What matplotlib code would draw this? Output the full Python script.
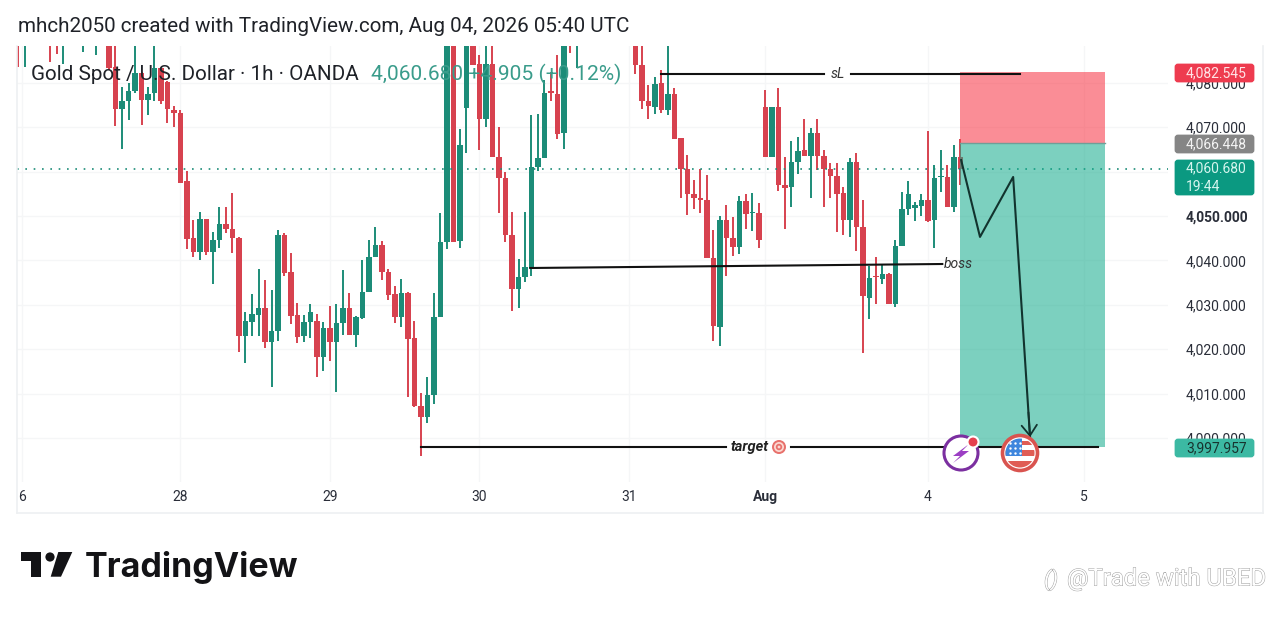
import matplotlib
matplotlib.use('Agg')
import matplotlib.pyplot as plt
import matplotlib.patheffects as pe
from matplotlib.patches import Circle, FancyBboxPatch, Polygon, Rectangle
import numpy as np

# hourly candles, anything above 4088 is cut by the pane
opens = [4093, 4090, 4094, 4096, 4092, 4094, 4091, 4089, 4094, 4092,
         4090, 4094, 4092, 4095, 4093, 4083.5, 4074.0, 4076.0, 4078.2, 4082.3,
         4076.1, 4077.8, 4083.3, 4080.3, 4073.9, 4073.1, 4057.9, 4045.0, 4041.8, 4049.3,
         4042.0, 4044.7, 4048.2, 4047.0, 4045.1, 4023.0, 4026.2, 4027.7, 4029.4, 4021.7,
         4024.2, 4045.7, 4037.3, 4027.7, 4023.0, 4026.1, 4026.3, 4018.2, 4024.7, 4021.7,
         4025.8, 4029.2, 4023.3, 4027.0, 4033.0, 4040.8, 4043.5, 4037.5, 4032.4, 4027.2,
         4032.6, 4022.6, 4007.2, 4004.7, 4009.7, 4027.2, 4044.2, 4096, 4044.4, 4074.4,
         4095, 4084.2, 4071.9, 4084.2, 4063.4, 4058.6, 4045.7, 4033.5, 4036.2, 4038.4,
         4061.1, 4063.0, 4078.0, 4077.4, 4068.8, 4093, 4090, 4094, 4092, 4095,
         4096, 4093, 4097, 4094, 4096, 4092, 4084.0, 4075.9, 4074.6, 4079.9,
         4073.9, 4077.4, 4067.5, 4060.6, 4054.9, 4054.1, 4053.6, 4040.5, 4025.1, 4049.1,
         4045.1, 4043.1, 4053.4, 4050.7, 4050.6, 4074.6, 4063.2, 4074.6, 4057.1, 4056.5,
         4062.2, 4064.9, 4063.6, 4068.6, 4063.5, 4060.7, 4059.0, 4055.1, 4049.1, 4062.2,
         4047.6, 4031.5, 4036.4, 4035.8, 4036.9, 4030.3, 4043.2, 4051.7, 4051.9, 4052.3,
         4053.6, 4049.1, 4058.7, 4058.7, 4052.1, 4063.4]
highs = [4095, 4096, 4098, 4099, 4095, 4097, 4095, 4096, 4097, 4096,
         4095, 4098, 4097, 4098, 4095, 4089, 4079.1, 4079.9, 4089, 4082.5,
         4079.1, 4089, 4083.3, 4080.5, 4074.8, 4073.9, 4060.1, 4049.0, 4050.8, 4049.3,
         4046.3, 4052.1, 4052.1, 4055.1, 4045.3, 4028.5, 4032.4, 4038.1, 4035.7, 4033.3,
         4046.9, 4046.2, 4041.6, 4030.5, 4027.7, 4030.2, 4027.9, 4026.1, 4029.7, 4030.3,
         4037.8, 4032.6, 4027.5, 4040.1, 4044.6, 4047.6, 4044.4, 4038.0, 4034.3, 4035.9,
         4033.0, 4026.4, 4010.1, 4013.7, 4032.6, 4050.6, 4100, 4098, 4069.7, 4097,
         4097, 4086.3, 4090, 4090, 4070.0, 4060.0, 4051.0, 4040.3, 4051.0, 4072.8,
         4073.0, 4080.6, 4082.4, 4086.3, 4092, 4096, 4096, 4098, 4097, 4099,
         4100, 4098, 4100, 4097, 4099, 4094, 4090, 4079.5, 4081.4, 4083.0,
         4089, 4078.8, 4067.5, 4063.7, 4058.1, 4060.7, 4059.2, 4046.8, 4050.1, 4052.5,
         4049.7, 4054.6, 4054.9, 4055.3, 4052.9, 4078.4, 4074.6, 4078.8, 4063.4, 4066.9,
         4067.9, 4071.8, 4069.8, 4071.9, 4064.9, 4062.0, 4062.0, 4056.6, 4063.0, 4064.3,
         4053.6, 4038.7, 4040.8, 4039.0, 4037.1, 4044.7, 4055.5, 4057.9, 4053.2, 4054.9,
         4069.2, 4061.5, 4064.9, 4061.5, 4066.0, 4067.4]
lows = [4083.6, 4083.5, 4091, 4090, 4089, 4084.8, 4086.6, 4084.2, 4090, 4090,
        4087.0, 4091, 4086.3, 4092, 4083.0, 4070.3, 4065.2, 4071.6, 4077.8, 4070.5,
        4072.8, 4075.9, 4075.2, 4070.9, 4070.0, 4057.4, 4042.6, 4040.8, 4040.2, 4041.2,
        4034.6, 4042.9, 4046.1, 4041.6, 4019.4, 4017.0, 4023.0, 4023.0, 4020.2, 4011.6,
        4021.9, 4036.5, 4025.7, 4021.5, 4021.7, 4022.6, 4013.8, 4015.2, 4017.4, 4010.3,
        4023.2, 4023.2, 4020.6, 4026.7, 4033.0, 4040.8, 4035.6, 4031.2, 4025.8, 4024.9,
        4009.3, 4007.1, 3995.9, 4003.3, 4007.6, 4027.2, 4042.6, 4044.2, 4042.9, 4064.1,
        4084.0, 4064.9, 4070.0, 4063.2, 4050.6, 4044.2, 4028.6, 4029.2, 4035.2, 4036.6,
        4060.2, 4063.0, 4075.8, 4067.3, 4065.0, 4086.8, 4083.3, 4091, 4090, 4092,
        4093, 4090, 4094, 4091, 4092, 4082.1, 4074.0, 4071.8, 4073.0, 4073.3,
        4072.8, 4067.3, 4054.0, 4050.2, 4051.7, 4050.6, 4040.5, 4021.9, 4020.8, 4036.5,
        4041.1, 4041.4, 4047.1, 4046.7, 4042.9, 4063.2, 4063.2, 4055.7, 4047.1, 4052.0,
        4059.4, 4063.6, 4054.0, 4060.4, 4052.0, 4054.1, 4046.5, 4045.7, 4045.3, 4042.2,
        4019.1, 4026.7, 4030.3, 4034.7, 4030.2, 4029.6, 4043.2, 4050.2, 4048.9, 4050.1,
        4048.6, 4042.7, 4055.5, 4052.1, 4051.0, 4057.0]
closes = [4090, 4094, 4096, 4092, 4090, 4091, 4089, 4094, 4092, 4095,
          4094, 4092, 4095, 4093, 4083.3, 4074.0, 4076.0, 4078.2, 4082.3, 4076.1,
          4077.6, 4083.3, 4075.9, 4074.0, 4073.1, 4057.5, 4044.9, 4041.8, 4049.3, 4042.0,
          4044.7, 4048.2, 4047.0, 4045.1, 4023.0, 4026.3, 4027.9, 4029.4, 4021.7, 4024.2,
          4045.7, 4037.1, 4027.6, 4022.8, 4026.1, 4028.5, 4018.2, 4024.7, 4021.7, 4025.8,
          4029.2, 4023.2, 4027.2, 4033.0, 4040.8, 4043.5, 4037.5, 4032.2, 4027.2, 4032.6,
          4022.4, 4007.2, 4004.7, 4009.7, 4027.3, 4044.1, 4096, 4044.2, 4066.0, 4095,
          4084.0, 4071.9, 4084.2, 4063.4, 4058.5, 4045.7, 4033.5, 4036.2, 4038.6, 4061.1,
          4063.1, 4077.8, 4077.8, 4068.5, 4090, 4090, 4094, 4092, 4095, 4096,
          4093, 4097, 4094, 4096, 4092, 4084.0, 4076.0, 4074.8, 4079.7, 4073.9,
          4077.5, 4067.3, 4060.6, 4054.9, 4054.1, 4053.6, 4040.5, 4025.3, 4049.0, 4045.1,
          4043.1, 4053.4, 4050.5, 4050.8, 4044.6, 4063.4, 4074.6, 4057.0, 4056.4, 4062.2,
          4064.7, 4063.6, 4068.6, 4063.5, 4060.7, 4059.1, 4054.9, 4049.1, 4062.2, 4047.6,
          4032.1, 4036.0, 4036.3, 4036.9, 4030.2, 4043.2, 4051.7, 4054.9, 4052.5, 4053.6,
          4048.9, 4058.5, 4058.9, 4052.1, 4063.4, 4060.68]

price_ticks = [4000, 4010, 4020, 4030, 4040, 4050, 4060, 4070, 4080]
price_labels = ['4,000.000', '4,010.000', '4,020.000', '4,030.000', '4,040.000',
                '4,050.000', '', '4,070.000', '4,080.000']
time_ticks = [0.6, 25, 48, 71, 94, 115, 140, 164]
time_labels = ['6', '28', '29', '30', '31', 'Aug', '4', '5']

last_price = 4060.68
stop_price = 4082.545
entry_price = 4066.448
target_price = 3997.957

# drawings on the chart, bar index and price
sl_x = [98.9, 124.0, np.nan, 128.2, 154.2]
sl_y = [4082.0, 4082.0, np.nan, 4082.0, 4082.0]
boss_x = [78.8, 142.2]
boss_y = [4038.3, 4039.2]
target_x = [62.0, 109.0, np.nan, 119.0, 166.2]
target_y = [3997.9, 3997.9, np.nan, 3997.9, 3997.9]
zigzag_x = [145.1, 148.0, 153.1, 155.7]
zigzag_y = [4062.6, 4045.3, 4058.8, 4000.2]
box_start, box_end = 144.9, 167.2

RED = '#d7424f'
GREEN = '#1c8c78'
GRID = '#f5f6f7'

W, H = 1280, 618
fig = plt.figure(figsize=(W / 100, H / 100), dpi=100, facecolor='white')
plt.rcParams['font.family'] = ['Roboto', 'DejaVu Sans']

# pane runs from px 17 to 1168 across and 46 to 482 down
ax = fig.add_axes([17 / W, 1 - 482 / H, (1168 - 17) / W, (482 - 46) / H])
ax.set_xlim((17 - 18) / 6.5, (1168 - 18) / 6.5)
ax.set_ylim(3990.1, 4088.3)
for s in ax.spines.values():
    s.set_visible(False)
ax.set_axisbelow(True)
ax.grid(True, color=GRID, lw=1)
ax.set_yticks(price_ticks)
ax.set_yticklabels(price_labels, fontsize=10, color='#2a2e39')
ax.yaxis.tick_right()
ax.set_xticks(time_ticks)
ax.set_xticklabels(time_labels, fontsize=10, color='#2a2e39')
ax.tick_params(axis='y', length=0, pad=13)
ax.tick_params(axis='x', length=0, pad=6)
for lab in ax.get_yticklabels():
    if lab.get_text() == '4,050.000':
        lab.set_fontweight('bold')
for lab in ax.get_xticklabels():
    if lab.get_text() == 'Aug':
        lab.set_fontweight('bold')

idx = np.arange(len(opens))
o, h, l, c = map(np.array, (opens, highs, lows, closes))
colors = [GREEN if cl >= op else RED for op, cl in zip(o, c)]
ax.vlines(idx, l, h, colors=colors, lw=1.4, zorder=3)
ax.bar(idx, np.maximum(np.abs(c - o), 0.3), bottom=np.minimum(o, c), width=0.78,
       color=colors, zorder=4, linewidth=0)

ax.axhline(last_price, color=GREEN, lw=1.2, ls=(0, (1, 4)), zorder=5)

ax.add_patch(Rectangle((box_start, entry_price), box_end - box_start, stop_price - entry_price,
                       facecolor='#f83b4a', alpha=0.58, lw=0, zorder=6))
ax.add_patch(Rectangle((box_start, target_price), box_end - box_start, entry_price - target_price,
                       facecolor='#11aa8b', alpha=0.55, lw=0, zorder=6))
ax.plot([box_start, box_end], [entry_price, entry_price], color='#6f9f98', lw=1, zorder=6)

ax.plot(sl_x, sl_y, color='#111111', lw=1.5, zorder=7)
ax.plot(boss_x, boss_y, color='#111111', lw=1.5, zorder=7)
ax.plot(target_x, target_y, color='#111111', lw=1.5, zorder=7)
ax.plot(zigzag_x, zigzag_y, color='#12332e', lw=1.5, zorder=7)
# only the head, the shaft is the last zigzag leg
ax.annotate('', xy=(zigzag_x[-1], zigzag_y[-1]), xytext=(155.45, 4005.8),
            arrowprops=dict(arrowstyle='->,head_length=0.75,head_width=0.55', color='#12332e',
                            lw=1.3, shrinkA=0, shrinkB=0), zorder=7)
ax.text(np.nanmean(sl_x[1:4]), sl_y[0], 'sL', fontsize=10, style='italic', color='#333333',
        ha='center', va='center', zorder=8)
ax.text(144.6, 4039.2, 'boss', fontsize=10, style='italic', color='#333333',
        ha='center', va='center', zorder=8)
ax.text(112.5, target_y[0], 'target', fontsize=10.5, style='italic', fontweight='bold',
        color='#222222', ha='center', va='center', zorder=8)

# overlay in picture pixels for header, badges and logo
ov = fig.add_axes([0, 0, 1, 1], facecolor='none')
ov.set_xlim(0, W)
ov.set_ylim(H, 0)
ov.axis('off')

for xs, ys in [([17, 17], [46, 513]), ([17, 1263], [513, 513]), ([1263, 1263], [46, 513])]:
    ov.plot(xs, ys, color='#eef0f2', lw=1.2)

ov.text(18, 27, 'mhch2050 created with TradingView.com, Aug 04, 2026 05:40 UTC',
        fontsize=14.85, color='#1f2228', va='center')
ov.text(31, 74, 'Gold Spot / U.S. Dollar · 1h · OANDA', fontsize=14.9, color='#1f2228', va='center')
ov.text(371, 74, '4,060.680 +4.905 (+0.12%)', fontsize=15.1, color='#3a9c8b', va='center')


def badge(y0, y1, color, lines, text_color='white'):
    ov.add_patch(FancyBboxPatch((1176, y0 + 2), 77, y1 - y0 - 4,
                                boxstyle='round,pad=0,rounding_size=2', lw=2, ec=color, fc=color))
    step = (y1 - y0) / len(lines)
    for i, line in enumerate(lines):
        ov.text(1186, y0 + step * (i + 0.5), line, fontsize=10, color=text_color, va='center')


badge(63, 83, '#ee3b4f', ['4,082.545'], '#ffe3e6')
badge(134, 154, '#858585', ['4,066.448'], '#f4f4f4')
badge(159, 196, '#0b9981', ['4,060.680', '19:44'], '#d5f5ee')
badge(438, 458, '#3cb9a3', ['3,997.957'], '#17332e')

# target emoji as rings
for r, col in [(7, '#e8716c'), (5, '#fbd9d2'), (3.2, '#e8716c'), (1.4, '#fbd9d2')]:
    ov.add_patch(Circle((779, 447), r, fc=col, ec='none'))

# purple lightning badge
ov.add_patch(Circle((961, 453), 17, fc='white', ec='#7b2fa0', lw=2.2))
ov.add_patch(Polygon([(969, 444), (953, 456), (960, 456), (953, 463), (969, 451), (962, 451)],
                     fc='#9c3fc4', ec='none'))
ov.add_patch(Circle((973, 442), 5.5, fc='#e5404f', ec='white', lw=1.5))

# flag badge
ring = Circle((1020, 453), 17.5, fc='white', ec='#d9544f', lw=2.6)
ov.add_patch(ring)
clip = Circle((1020, 453), 14.5, transform=ov.transData)
for y0, y1 in [(441, 445), (450, 456), (461, 468)]:
    st = Rectangle((1004, y0), 32, y1 - y0, fc='#e05d55', ec='none')
    ov.add_patch(st)
    st.set_clip_path(clip)
canton = Rectangle((1004, 438), 18, 18, fc='#3f86dd', ec='none')
ov.add_patch(canton)
canton.set_clip_path(clip)
ov.scatter([1010, 1015, 1020, 1010, 1015, 1020, 1010, 1015, 1020],
           [443, 443, 443, 448, 448, 448, 453, 453, 453], s=3, c='white', lw=0)

# logo
ov.add_patch(Polygon([(20.7, 552), (40.7, 552), (40.7, 576.7), (30.7, 576.7), (30.7, 561), (20.7, 561)],
                     fc='#131316', ec='none'))
ov.add_patch(Circle((50, 557), 4.6, fc='#131316', ec='none'))
ov.add_patch(Polygon([(58.3, 552), (72.3, 552), (61, 576.7), (50.7, 576.7)], fc='#131316', ec='none'))
ov.text(85, 577, 'TradingView', fontsize=24.5, family=['Inter', 'DejaVu Sans'], fontweight='bold',
        color='#131316', va='baseline')

# watermark, white with a faint edge
ov.text(1067, 579, '@Trade with UBED', fontsize=17.2, color='white', va='center',
        path_effects=[pe.withStroke(linewidth=0.7, foreground='#a0a0a0')])
ov.text(1051, 580, '()', fontsize=15, style='italic', color='white', va='center', ha='center',
        path_effects=[pe.withStroke(linewidth=0.7, foreground='#a0a0a0')])

fig.savefig('out.png', dpi=100)
